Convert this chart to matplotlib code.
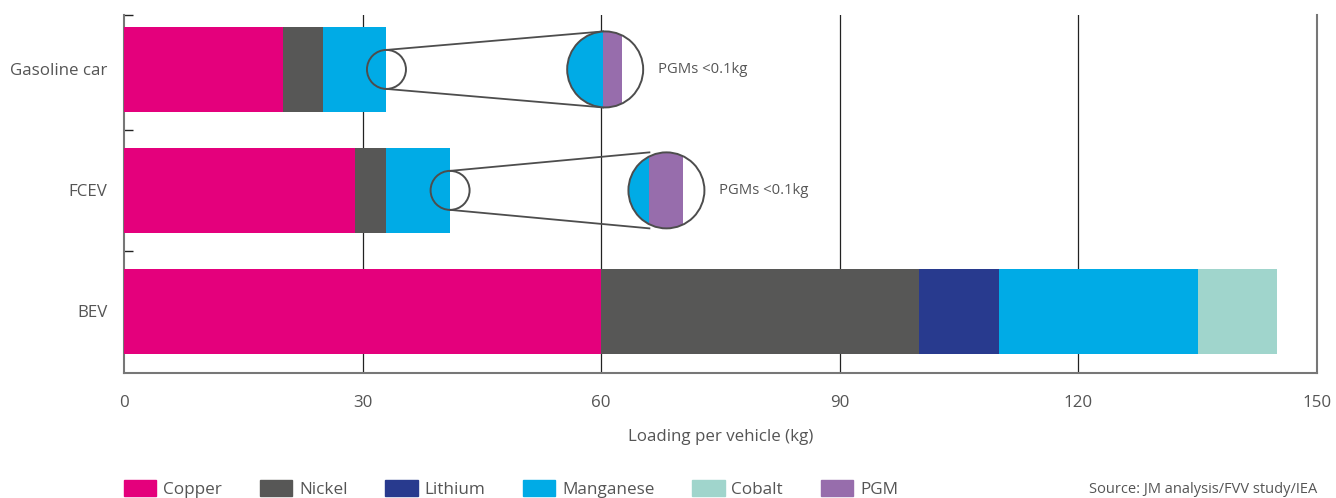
import matplotlib.pyplot as plt
import matplotlib.patches as mpatches

plt.rcParams['font.family'] = ['Open Sans', 'DejaVu Sans']

# loading per vehicle, kg
vehicles = ['Gasoline car', 'FCEV', 'BEV']
copper = [20, 29, 60]
nickel = [5, 4, 40]
lithium = [0, 0, 10]
manganese = [8, 8, 25]
cobalt = [0, 0, 10]
pgm_note = 'PGMs <0.1kg'

metals = ['Copper', 'Nickel', 'Lithium', 'Manganese', 'Cobalt']
values = [copper, nickel, lithium, manganese, cobalt]
colors = {
    'Copper': '#E4007C',
    'Nickel': '#575756',
    'Lithium': '#283A8E',
    'Manganese': '#00ABE6',
    'Cobalt': '#A0D5CC',
    'PGM': '#976DAC',
}

W, H = 1336, 498
fig = plt.figure(figsize=(W / 100, H / 100), dpi=100)
ax_l, ax_r, ax_t, ax_b = 124, 1317, 15, 373
ax = fig.add_axes([ax_l / W, 1 - ax_b / H, (ax_r - ax_l) / W, (ax_b - ax_t) / H])

xmax = 150
ylim = (2.51, -0.45)
ax.set_xlim(0, xmax)
ax.set_ylim(*ylim)

# pixel per data unit, used to keep the zoom circles round
px_x = (ax_r - ax_l) / xmax
px_y = (ax_b - ax_t) / (ylim[0] - ylim[1])

ypos = list(range(len(vehicles)))
left = [0] * len(vehicles)
for name, vals in zip(metals, values):
    ax.barh(ypos, vals, left=left, height=0.7, color=colors[name], zorder=3)
    left = [l + v for l, v in zip(left, vals)]
totals = left

for x in [30, 60, 90, 120]:
    ax.axvline(x, color='#222222', lw=0.9, zorder=1)

# magnified view of the bar ends showing the PGM share
line_c = '#4d4d4d'
r_small, r_big = 19.5, 38
insets = [
    # (row, centre x of big circle, manganese part in px, pgm part in px)
    (0, 60.5, 36, 19),
    (1, 68.2, 21, 34),
]
for row, cx, mn_px, pgm_px in insets:
    end = totals[row]
    rxs, rys = r_small / px_x, r_small / px_y
    rxb, ryb = r_big / px_x, r_big / px_y

    small = mpatches.Ellipse((end, row), 2 * rxs, 2 * rys, fill=False,
                             edgecolor=line_c, lw=1.4, zorder=5)
    ax.add_patch(small)

    split = cx - rxb + mn_px / px_x
    ax.plot([end, split], [row - rys, row - ryb], color=line_c, lw=1.3, zorder=4)
    ax.plot([end, split], [row + rys, row + ryb], color=line_c, lw=1.3, zorder=4)

    big = mpatches.Ellipse((cx, row), 2 * rxb, 2 * ryb, facecolor='white',
                           edgecolor='none', zorder=5)
    ax.add_patch(big)
    b1 = ax.barh(row, mn_px / px_x, left=cx - rxb, height=2 * ryb,
                 color=colors['Manganese'], zorder=6)
    b2 = ax.barh(row, pgm_px / px_x, left=split, height=2 * ryb,
                 color=colors['PGM'], zorder=6)
    for b in list(b1) + list(b2):
        b.set_clip_path(big)
    ring = mpatches.Ellipse((cx, row), 2 * rxb, 2 * ryb, fill=False,
                            edgecolor=line_c, lw=1.4, zorder=7)
    ax.add_patch(ring)

    ax.text(cx + rxb + 15 / px_x, row, pgm_note, va='center', ha='left',
            fontsize=10.7, color='#555555')

# axes styling
for side in ['left', 'bottom', 'right']:
    ax.spines[side].set_color('#777777')
    ax.spines[side].set_linewidth(1.5)
ax.spines['top'].set_visible(False)

ax.set_yticks(ypos)
ax.set_yticklabels(vehicles)
ax.set_yticks([-0.45, 0.5, 1.5], minor=True)
ax.tick_params(axis='y', which='major', length=0, pad=12, labelsize=12.2,
               labelcolor='#555555')
ax.tick_params(axis='y', which='minor', direction='in', length=6.5,
               width=1, color='#222222')

ax.set_xticks([0, 30, 60, 90, 120, 150])
ax.tick_params(axis='x', length=0, pad=16, labelsize=12.2, labelcolor='#555555')
ax.set_xlabel('Loading per vehicle (kg)', fontsize=12.2, color='#555555',
              labelpad=13)

handles = [mpatches.Patch(color=colors[m], label=m) for m in metals + ['PGM']]
fig.legend(handles=handles, loc='center left', bbox_to_anchor=(124 / W, 1 - 489 / H),
           ncol=6, frameon=False, fontsize=12.3, handlelength=1.9, handleheight=1.1,
           handletextpad=0.4, columnspacing=2.2, borderpad=0, borderaxespad=0,
           labelcolor='#555555')

fig.text(1317 / W, 1 - 489 / H, 'Source: JM analysis/FVV study/IEA', ha='right',
         va='center', fontsize=10.5, color='#555555')

fig.savefig('out.png', dpi=100)
